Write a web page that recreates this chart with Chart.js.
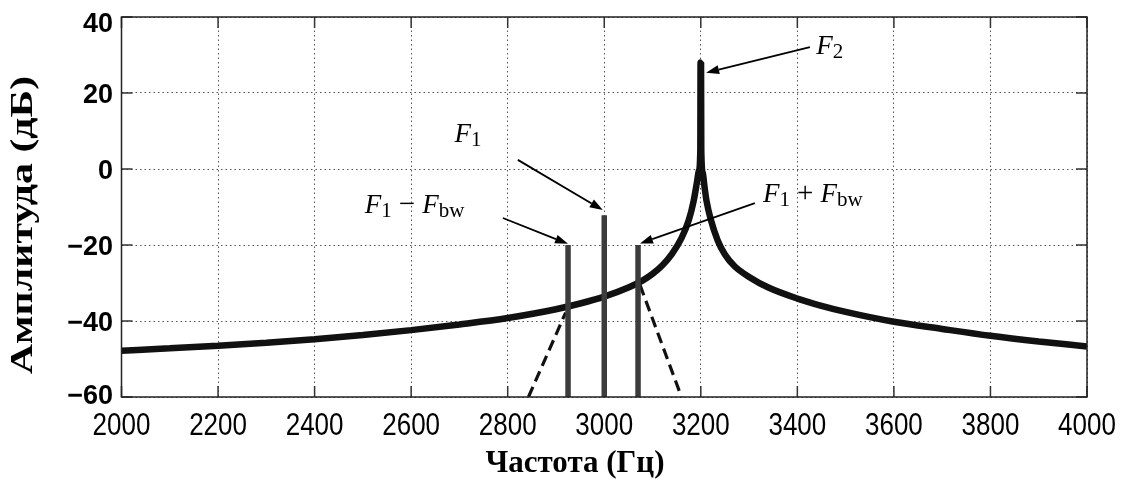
<!DOCTYPE html>
<html>
<head>
<meta charset="utf-8">
<script src="https://cdn.jsdelivr.net/npm/chart.js@4.4.0/dist/chart.umd.min.js"></script>
<style>
  html, body { margin: 0; padding: 0; background: #fff; }
  canvas { display: block; }
</style>
</head>
<body>
<canvas id="myChart" width="1123" height="487"></canvas>
<script>
// ---- data ----
const curveFreq = [2000, 2100, 2200, 2300, 2400, 2500, 2600, 2700, 2800, 2900, 2950, 3000, 3050, 3080,
                   3100, 3120, 3140, 3160, 3175, 3185, 3192, 3196, 3199, 3199.5, 3200.5, 3201, 3204, 3208,
                   3212, 3220, 3235, 3250, 3270, 3300, 3340, 3400, 3450, 3500, 3600, 3700, 3800, 3900, 4000];
const curveDb = [-47.8, -47.2, -46.5, -45.7, -44.8, -43.7, -42.4, -40.9, -39.2, -36.9, -35.4, -33.6, -31.2, -29.3,
                 -27.6, -25.4, -22.4, -18.2, -13.5, -8.5, -3.5, -0.5, 5, 28, 28, 5, -1, -5,
                 -8.5, -13, -18.8, -22.5, -25.6, -28.4, -31.2, -34.1, -36.0, -37.6, -40.2, -42.1, -43.9, -45.4, -46.7];

const toneFreq = [2925, 3000, 3070];
const toneDb = [-20, -12.2, -20];

const dashLeftFreq = [2843, 2920];
const dashLeftDb = [-60, -37.8];
const dashRightFreq = [3074, 3160];
const dashRightDb = [-30.5, -60];

const xTicks = [2000, 2200, 2400, 2600, 2800, 3000, 3200, 3400, 3600, 3800, 4000];
const yTicks = [-60, -40, -20, 0, 20, 40];

// text labels with arrows (data coordinates)
const notes = [
  { x: 3439, y: 30.3, runs: [['F', 'i'], ['2', 's']], from: [3426, 32.1], to: [3211, 25.3] },
  { x: 2690, y: 7.2, runs: [['F', 'i'], ['1', 's']], from: [2821, 2.4], to: [2997, -10.8] },
  { x: 2504, y: -11.6, runs: [['F', 'i'], ['1', 's'], ['\u2212', 'o'], ['F', 'i'], ['bw', 's']], from: [2790, -12.9], to: [2925, -19.7] },
  { x: 3329, y: -8.6, runs: [['F', 'i'], ['1', 's'], ['+', 'o'], ['F', 'i'], ['bw', 's']], from: [3312, -9.0], to: [3074, -19.6] }
];

const pts = (xs, ys) => xs.map((x, i) => ({ x: x, y: ys[i] }));

const datasets = [];
datasets.push({
  data: pts(curveFreq, curveDb),
  borderColor: '#111',
  borderWidth: 6.5,
  pointRadius: 0,
  cubicInterpolationMode: 'monotone',
  borderJoinStyle: 'bevel',
  borderCapStyle: 'butt',
  order: 2
});
for (let i = 0; i < toneFreq.length; i++) {
  datasets.push({
    data: [{ x: toneFreq[i], y: -60 }, { x: toneFreq[i], y: toneDb[i] }],
    borderColor: '#3c3c3c',
    borderWidth: 5.5,
    borderCapStyle: 'butt',
    pointRadius: 0,
    order: 1
  });
}
datasets.push({
  data: pts(dashLeftFreq, dashLeftDb),
  borderColor: '#111', borderWidth: 3.2, borderDash: [11, 6], pointRadius: 0, order: 3
});
datasets.push({
  data: pts(dashRightFreq, dashRightDb),
  borderColor: '#111', borderWidth: 3.2, borderDash: [11, 6], pointRadius: 0, order: 3
});

const SERIF = '"Liberation Serif", "Times New Roman", serif';
const SANS = '"Liberation Sans", Arial, sans-serif';

function drawRuns(ctx, x, y, runs) {
  let cx = x;
  for (const [t, kind] of runs) {
    let font = 'italic 27px ' + SERIF, dy = 0, padL = 0, padR = 0;
    if (kind === 's') { font = '21px ' + SERIF; dy = 4; }
    if (kind === 'o') { font = '29px ' + SERIF; padL = 7; padR = 7; }
    ctx.font = font;
    cx += padL;
    ctx.fillText(t, cx, y + dy);
    cx += ctx.measureText(t).width + padR;
  }
}

function arrow(ctx, x1, y1, x2, y2) {
  const a = Math.atan2(y2 - y1, x2 - x1);
  const len = 13, half = 4.5;
  const bx = x2 - len * Math.cos(a), by = y2 - len * Math.sin(a);
  ctx.beginPath();
  ctx.moveTo(x1, y1);
  ctx.lineTo(bx, by);
  ctx.lineWidth = 1.8;
  ctx.strokeStyle = '#000';
  ctx.stroke();
  ctx.beginPath();
  ctx.moveTo(x2, y2);
  ctx.lineTo(bx + half * Math.sin(a), by - half * Math.cos(a));
  ctx.lineTo(bx - half * Math.sin(a), by + half * Math.cos(a));
  ctx.closePath();
  ctx.fillStyle = '#000';
  ctx.fill();
}

const fmt = v => (v < 0 ? '\u2212' + Math.abs(v) : String(v));

const framePlugin = {
  id: 'frame',
  beforeDatasetsDraw(chart) {
    const { ctx, chartArea: a, scales } = chart;
    ctx.save();
    ctx.strokeStyle = '#333';
    ctx.lineWidth = 1.5;
    const tl = 11;
    for (const v of xTicks) {
      const x = scales.x.getPixelForValue(v);
      ctx.beginPath();
      ctx.moveTo(x, a.bottom); ctx.lineTo(x, a.bottom - tl);
      ctx.moveTo(x, a.top); ctx.lineTo(x, a.top + tl);
      ctx.stroke();
    }
    for (const v of yTicks) {
      const y = scales.y.getPixelForValue(v);
      ctx.beginPath();
      ctx.moveTo(a.left, y); ctx.lineTo(a.left + tl, y);
      ctx.moveTo(a.right, y); ctx.lineTo(a.right - tl, y);
      ctx.stroke();
    }
    ctx.restore();
  },
  afterDatasetsDraw(chart) {
    const { ctx, chartArea: a, scales } = chart;
    ctx.save();
    ctx.strokeStyle = '#222';
    ctx.lineWidth = 1.5;
    ctx.strokeRect(a.left, a.top, a.right - a.left, a.bottom - a.top);

    ctx.fillStyle = '#000';
    ctx.textBaseline = 'alphabetic';

    // tick labels (the printed figure is slightly stretched vertically)
    ctx.textAlign = 'center';
    ctx.font = '26px ' + SANS;
    for (const v of xTicks) {
      ctx.save();
      ctx.translate(scales.x.getPixelForValue(v), a.bottom + 38);
      ctx.scale(1, 1.18);
      ctx.fillText(String(v), 0, 0);
      ctx.restore();
    }
    ctx.textAlign = 'right';
    ctx.font = 'bold 27px ' + SANS;
    for (const v of yTicks) {
      let cy = scales.y.getPixelForValue(v);
      cy = Math.min(Math.max(cy, a.top + 5.5), a.bottom - 3);
      ctx.fillText(fmt(v), a.left - 8.5, cy + 9.5);
    }

    ctx.textAlign = 'left';
    for (const n of notes) {
      arrow(ctx,
        scales.x.getPixelForValue(n.from[0]), scales.y.getPixelForValue(n.from[1]),
        scales.x.getPixelForValue(n.to[0]), scales.y.getPixelForValue(n.to[1]));
      ctx.fillStyle = '#000';
      drawRuns(ctx, scales.x.getPixelForValue(n.x), scales.y.getPixelForValue(n.y), n.runs);
    }

    // axis titles
    ctx.textAlign = 'center';
    ctx.font = 'bold 31px ' + SERIF;
    ctx.fillText('Частота (Гц)', 575, 472);
    ctx.font = 'bold 32px ' + SERIF;
    ctx.translate(32, 225);
    ctx.rotate(-Math.PI / 2);
    ctx.scale(1.31, 1);
    ctx.fillText('Амплитуда (дБ)', 0, 0);
    ctx.restore();
  }
};

new Chart(document.getElementById('myChart'), {
  type: 'line',
  data: { datasets: datasets },
  options: {
    responsive: false,
    animation: false,
    devicePixelRatio: 1,
    layout: { padding: { top: 17, right: 36, left: 0, bottom: 0 } },
    plugins: { legend: { display: false }, tooltip: { enabled: false } },
    scales: {
      x: {
        type: 'linear',
        min: 2000, max: 4000,
        afterBuildTicks: s => { s.ticks = xTicks.map(v => ({ value: v })); },
        afterFit: s => { s.height = 90; },
        grid: { color: '#555', lineWidth: 1, drawTicks: false },
        border: { display: false, dash: [1.5, 3] },
        ticks: { display: false }
      },
      y: {
        min: -60, max: 40,
        afterBuildTicks: s => { s.ticks = yTicks.map(v => ({ value: v })); },
        afterFit: s => { s.width = 121.5; },
        grid: { color: '#555', lineWidth: 1, drawTicks: false },
        border: { display: false, dash: [1.5, 3] },
        ticks: { display: false }
      }
    }
  },
  plugins: [framePlugin]
});
</script>
</body>
</html>
